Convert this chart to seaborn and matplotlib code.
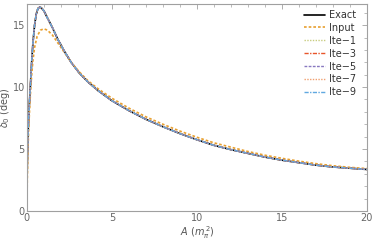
import matplotlib
matplotlib.use("Agg")
import matplotlib.pyplot as plt
import seaborn as sns
import numpy as np
from matplotlib.ticker import MultipleLocator

# values
a_exact = [0, 0.01, 0.03, 0.06, 0.1, 0.15, 0.2, 0.27, 0.35, 0.45, 0.55, 0.65, 0.75,
           0.85, 1.0, 1.2, 1.5, 1.8, 2.2, 2.6, 3.1, 3.6, 4.2, 5, 6, 7, 8, 9, 10,
           11, 12, 13, 14, 15, 16, 17, 18, 19, 20]
exact = [0, 2.5, 4.5, 6.0, 7.4, 8.8, 10.0, 11.8, 13.5, 15.0, 15.9, 16.35, 16.45,
         16.4, 16.15, 15.6, 14.8, 13.9, 12.9, 12.0, 11.1, 10.4, 9.7, 8.9, 8.1, 7.4,
         6.8, 6.25, 5.75, 5.3, 4.95, 4.65, 4.35, 4.1, 3.9, 3.7, 3.55, 3.45, 3.35]

a_input = [0, 0.02, 0.05, 0.1, 0.15, 0.2, 0.27, 0.35, 0.45, 0.6, 0.8, 1.0, 1.2, 1.5,
           1.8, 2.2, 2.6, 3.1, 3.6, 4.2, 5, 6, 7, 8, 9, 10, 11, 12, 13, 14, 15, 16,
           17, 18, 19, 20]
inp = [0, 2.5, 4.5, 6.5, 8.0, 9.3, 10.8, 12.1, 13.2, 14.1, 14.6, 14.7, 14.6, 14.2,
       13.6, 12.8, 12.0, 11.2, 10.5, 9.85, 9.1, 8.3, 7.6, 7.0, 6.45, 5.95, 5.5, 5.15,
       4.8, 4.5, 4.25, 4.02, 3.82, 3.65, 3.52, 3.42]

# the iterations lie on top of the exact curve
ite1 = list(exact)
ite3 = list(exact)
ite5 = list(exact)
ite7 = list(exact)
ite9 = list(exact)

sns.set_theme(style="white")
plt.rcParams['font.family'] = ['DejaVu Sans']

fig = plt.figure(figsize=(3.74, 2.4), dpi=100)
ax = fig.add_axes([0.072, 0.121, 0.909, 0.862])

gray = '#a0a0a0'
series = [
    ("Exact", a_exact, exact, 'black', '-', 1.2),
    ("Input", a_input, inp, '#e8a030', (0, (1.6, 1.2)), 1.2),
    ("Ite\u22121", a_exact, ite1, '#c8cc80', (0, (1, 1)), 1.0),
    ("Ite\u22123", a_exact, ite3, '#e8552a', (0, (3, 1, 1, 1)), 1.0),
    ("Ite\u22125", a_exact, ite5, '#8878c0', (0, (2, 1)), 1.0),
    ("Ite\u22127", a_exact, ite7, '#f0a070', (0, (1, 1)), 1.0),
    ("Ite\u22129", a_exact, ite9, '#60a8e0', (0, (3, 1, 1, 1)), 1.0),
]
for name, xs, ys, col, ls, lw in series:
    sns.lineplot(x=xs, y=ys, ax=ax, color=col, linestyle=ls, lw=lw, label=name,
                 sort=False, estimator=None)

ax.set_xlim(0, 20)
ax.set_ylim(0, 16.7)
ax.xaxis.set_major_locator(MultipleLocator(5))
ax.xaxis.set_minor_locator(MultipleLocator(1))
ax.yaxis.set_major_locator(MultipleLocator(5))
ax.yaxis.set_minor_locator(MultipleLocator(1))
ax.tick_params(which='both', direction='in', top=True, right=True, color=gray,
               labelcolor='#666666', labelsize=7, pad=1.5)
ax.tick_params(which='major', length=3.5, width=0.6)
ax.tick_params(which='minor', length=2, width=0.5)
for s in ax.spines.values():
    s.set_color(gray)
    s.set_linewidth(0.8)

ax.set_xlabel(r'$A$ ($m_\pi^{\,2}$)', fontsize=7, color='#555555', labelpad=0.5)
ax.set_ylabel(r'$\delta_0$ (deg)', fontsize=7, color='#555555', labelpad=0)

leg = ax.legend(loc='upper right', frameon=False, fontsize=7, handlelength=2.2,
                handletextpad=0.4, labelspacing=0.3, borderaxespad=0.2,
                bbox_to_anchor=(0.985, 1.0))
for t in leg.get_texts():
    t.set_color('#333333')

fig.savefig("out.png", dpi=100)
